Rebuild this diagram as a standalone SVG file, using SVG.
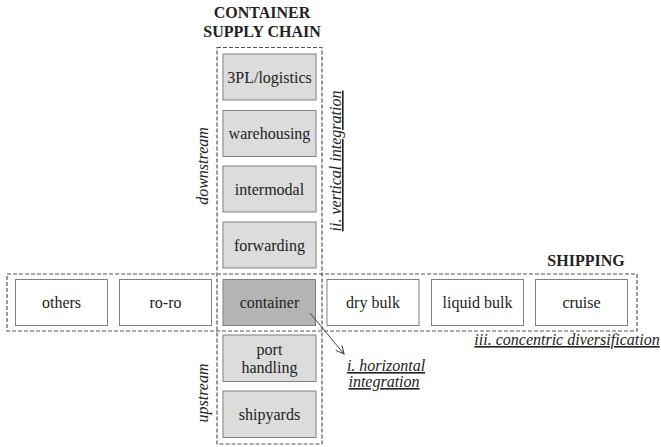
<svg xmlns="http://www.w3.org/2000/svg" width="661" height="447" viewBox="0 0 661 447">
<style>
  text{font-family:'Liberation Serif',Tinos,'Times New Roman',Times,serif;fill:#222;text-anchor:middle}
  .t{font-size:16px}
  .h{font-size:16px;font-weight:bold}
  .it{font-size:16px;font-style:italic}
  .u{text-decoration:underline}
  .sc{fill:#dcdcdc;stroke:#808080;stroke-width:1}
  .ct{fill:#b4b4b4;stroke:#808080;stroke-width:1}
  .sh{fill:#ffffff;stroke:#808080;stroke-width:1}
  .dash{fill:none;stroke:#555;stroke-width:1.2;stroke-dasharray:4 2}
</style>
<defs>
  <marker id="arr" markerWidth="10" markerHeight="10" refX="9" refY="5" orient="auto" markerUnits="userSpaceOnUse">
    <path d="M1,1 L9,5 L1,9" fill="none" stroke="#333" stroke-width="1"/>
  </marker>
</defs>
<rect width="661" height="447" fill="#fff"/>
<g id="groups">
  <rect class="dash" x="217" y="47.5" width="105" height="396.5"/>
  <rect class="dash" x="7" y="274" width="630" height="57"/>
</g>
<g id="titles">
  <text class="h" x="262" y="18">CONTAINER</text>
  <text class="h" x="262" y="37">SUPPLY CHAIN</text>
  <text class="h" x="586" y="266">SHIPPING</text>
</g>
<g id="n-3pl"><rect class="sc" x="223" y="54" width="93" height="46"/><text class="t" x="269.5" y="82.5">3PL/logistics</text></g>
<g id="n-warehousing"><rect class="sc" x="223" y="110.5" width="93" height="46"/><text class="t" x="269.5" y="139">warehousing</text></g>
<g id="n-intermodal"><rect class="sc" x="223" y="166" width="93" height="46"/><text class="t" x="269.5" y="194.5">intermodal</text></g>
<g id="n-forwarding"><rect class="sc" x="223" y="222" width="93" height="46"/><text class="t" x="269.5" y="250.5">forwarding</text></g>
<g id="n-others"><rect class="sh" x="15.5" y="279.5" width="92" height="46"/><text class="t" x="61.5" y="308">others</text></g>
<g id="n-roro"><rect class="sh" x="119.5" y="279.5" width="92" height="46"/><text class="t" x="165.5" y="308">ro-ro</text></g>
<g id="n-container"><rect class="ct" x="223" y="279.5" width="92.5" height="46"/><text class="t" x="269.5" y="308">container</text></g>
<g id="n-drybulk"><rect class="sh" x="327" y="279.5" width="92" height="46"/><text class="t" x="373" y="308">dry bulk</text></g>
<g id="n-liquidbulk"><rect class="sh" x="431.5" y="279.5" width="92" height="46"/><text class="t" x="477.5" y="308">liquid bulk</text></g>
<g id="n-cruise"><rect class="sh" x="535.5" y="279.5" width="92" height="46"/><text class="t" x="581.5" y="308">cruise</text></g>
<g id="n-port"><rect class="sc" x="223" y="335" width="93" height="46.5"/><text class="t" x="269.5" y="355">port</text><text class="t" x="269.5" y="373">handling</text></g>
<g id="n-shipyards"><rect class="sc" x="223" y="391" width="93" height="46.5"/><text class="t" x="269.5" y="419.5">shipyards</text></g>
<g id="connectors">
  <line x1="310" y1="313" x2="344" y2="354" stroke="#333" stroke-width="0.9" marker-end="url(#arr)"/>
</g>
<g id="labels">
  <text class="it" transform="translate(208,166) rotate(-90)">downstream</text>
  <text class="it" transform="translate(208,393) rotate(-90)">upstream</text>
  <text class="it u" transform="translate(341,161) rotate(-90)">ii. vertical integration</text>
  <text class="it u" x="386" y="371">i. horizontal</text>
  <text class="it u" x="384" y="387">integration</text>
  <text class="it u" x="567" y="345">iii. concentric diversification</text>
</g>
</svg>
